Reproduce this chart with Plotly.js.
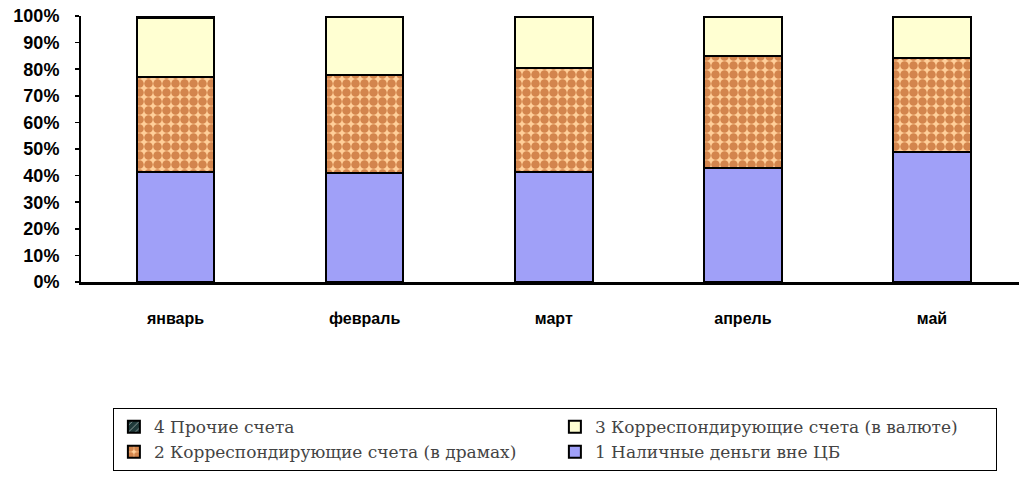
<!DOCTYPE html>
<html>
<head>
<meta charset="utf-8">
<script src="https://cdn.plot.ly/plotly-3.0.1.min.js"></script>
<style>html,body{margin:0;padding:0;background:#fff;}#chart{width:1019px;height:478px;}</style>
</head>
<body>
<div id="chart"></div>
<script>
const months = ["январь", "февраль", "март", "апрель", "май"];
const cash = [41.5, 41.0, 41.5, 42.7, 49.0];
const corrDram = [35.7, 36.8, 38.8, 42.3, 35.1];
const corrFx = [22.0, 21.7, 19.3, 14.6, 15.5];
const other = [0.8, 0.5, 0.4, 0.4, 0.4];
const names = ["1 Наличные деньги вне ЦБ", "2 Корреспондирующие счета (в драмах)", "3 Корреспондирующие счета (в валюте)", "4 Прочие счета"];
const yTicks = [0, 10, 20, 30, 40, 50, 60, 70, 80, 90, 100];
const yTickText = yTicks.map(v => v + "%");

const line = {color: "#000", width: 2};
const traces = [
  {type: "bar", x: months, y: cash, name: names[0], marker: {color: "#a0a0f8", line: line}},
  {type: "bar", x: months, y: corrDram, name: names[1], marker: {color: "#ffcf9a", line: line,
    pattern: {shape: ".", fgcolor: "#a83c00", bgcolor: "#ffcf9a", size: 9, solidity: 0.7, fillmode: "overlay"}}},
  {type: "bar", x: months, y: corrFx, name: names[2], marker: {color: "#ffffd2", line: line}},
  {type: "bar", x: months, y: other, name: names[3], marker: {color: "#1f3a3a", line: line,
    pattern: {shape: "/", fgcolor: "#ffffff", bgcolor: "#1f3a3a", size: 6, solidity: 0.2, fillmode: "overlay"}}}
];

const layout = {
  width: 1019, height: 478,
  margin: {l: 81, r: 0, t: 16, b: 196},
  barmode: "stack",
  bargap: 0.59,
  paper_bgcolor: "#fff", plot_bgcolor: "#fff",
  showlegend: true,
  xaxis: {
    range: [-0.5, 4.46], showline: true, linecolor: "#000", linewidth: 3,
    ticks: "", showgrid: false, zeroline: false,
    tickfont: {family: "Liberation Sans, Arial, sans-serif", size: 16, color: "#000", weight: "bold"},
    ticklabelstandoff: 20
  },
  yaxis: {
    range: [0, 100], tickvals: yTicks, ticktext: yTickText,
    showline: true, linecolor: "#000", linewidth: 2,
    ticks: "outside", ticklen: 4, tickwidth: 1.5, tickcolor: "#000",
    showgrid: false, zeroline: false,
    tickfont: {family: "Liberation Sans, Arial, sans-serif", size: 18, color: "#000", weight: "bold"},
    ticklabelstandoff: 12
  },
  legend: {
    orientation: "h", traceorder: "reversed",
    x: 0.034, xanchor: "left", y: -0.474, yanchor: "top",
    entrywidth: 396, entrywidthmode: "pixels",
    bordercolor: "#000", borderwidth: 1, bgcolor: "#fff",
    font: {family: "DejaVu Serif, Liberation Serif, serif", size: 17, color: "#444"}
  }
};

Plotly.newPlot("chart", traces, layout, {displayModeBar: false, staticPlot: true});
</script>
</body>
</html>
